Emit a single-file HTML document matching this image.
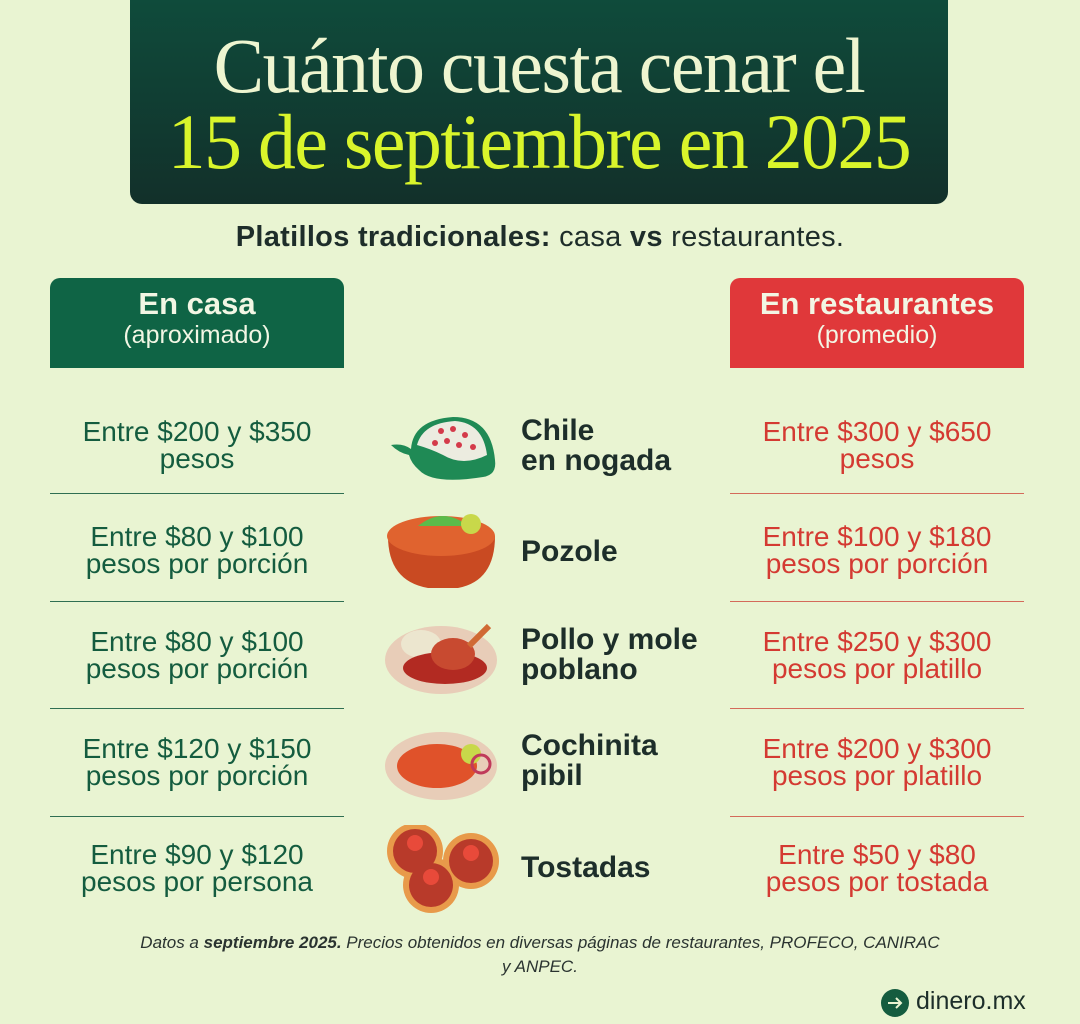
<!DOCTYPE html><html><head><meta charset="utf-8"><style>
*{margin:0;padding:0;box-sizing:border-box}
body{width:1080px;height:1024px;background:#e9f4d2;position:relative;overflow:hidden;font-family:"Liberation Sans",sans-serif}
.title{position:absolute;left:130px;top:0;width:818px;height:204px;border-radius:0 0 12px 12px;background:linear-gradient(#0f4b3b,#12302a);text-align:center;font-family:"Liberation Serif",serif;font-size:78px;line-height:76px;padding-top:28px;letter-spacing:-1.5px}
.title div{transform:scaleX(0.97)}
.t1{color:#eef5d0}.t2{color:#d9f52b}
.sub{position:absolute;top:221px;width:1080px;text-align:center;font-size:29px;letter-spacing:0.3px;color:#1e2d2a}
.hd{position:absolute;top:278px;width:294px;height:90px;border-radius:10px 10px 0 0;text-align:center;color:#f2f6e4;padding-top:9px}
.hd b{font-size:31px;display:block;line-height:34px}.hd span{font-size:25px}
.c{position:absolute;width:294px;text-align:center;font-size:28px;line-height:27px}
.l{left:50px;color:#145c3f}.r{left:730px;color:#d43a32}
.sep{position:absolute;width:294px;height:1px}
.sl{left:50px;background:#2f6e52}.sr{left:730px;background:#d46a5a}
.n{position:absolute;left:521px;font-weight:bold;font-size:30px;line-height:30px;color:#1d2e2a}
.ic{position:absolute;left:383px;width:118px;height:90px}
.foot{position:absolute;top:931px;width:1080px;text-align:center;font-style:italic;font-size:17px;line-height:24px;color:#2a3330}
</style></head><body>
<div class="title"><div class="t1">Cuánto cuesta cenar el</div><div class="t2">15 de septiembre en 2025</div></div>
<div class="sub"><b>Platillos tradicionales:</b> casa <b>vs</b> restaurantes.</div>
<div class="hd" style="left:50px;background:#0f6445"><b>En casa</b><span>(aproximado)</span></div>
<div class="hd" style="left:730px;background:#e0383a"><b>En restaurantes</b><span>(promedio)</span></div>

<div class="c l" style="top:418px">Entre $200 y $350<br>pesos</div>
<div class="c l" style="top:523px">Entre $80 y $100<br>pesos por porción</div>
<div class="c l" style="top:628px">Entre $80 y $100<br>pesos por porción</div>
<div class="c l" style="top:735px">Entre $120 y $150<br>pesos por porción</div>
<div class="c l" style="top:841px">Entre $90 y $120<br>pesos por persona</div>
<div class="c r" style="top:418px">Entre $300 y $650<br>pesos</div>
<div class="c r" style="top:523px">Entre $100 y $180<br>pesos por porción</div>
<div class="c r" style="top:628px">Entre $250 y $300<br>pesos por platillo</div>
<div class="c r" style="top:735px">Entre $200 y $300<br>pesos por platillo</div>
<div class="c r" style="top:841px">Entre $50 y $80<br>pesos por tostada</div>
<div class="sep sl" style="top:493px"></div><div class="sep sl" style="top:601px"></div><div class="sep sl" style="top:708px"></div><div class="sep sl" style="top:816px"></div>
<div class="sep sr" style="top:493px"></div><div class="sep sr" style="top:601px"></div><div class="sep sr" style="top:708px"></div><div class="sep sr" style="top:816px"></div>

<div class="n" style="top:416px">Chile<br>en nogada</div>
<div class="n" style="top:537px">Pozole</div>
<div class="n" style="top:625px">Pollo y mole<br>poblano</div>
<div class="n" style="top:731px">Cochinita<br>pibil</div>
<div class="n" style="top:853px">Tostadas</div>

<svg class="ic" style="top:405px" viewBox="0 0 118 90"><path d="M8 40 Q20 38 28 44 Q30 15 70 12 Q108 12 112 55 Q114 70 100 72 Q50 80 36 65 Q28 58 26 50 Q16 48 8 40Z" fill="#1f8a55"/><path d="M34 40 Q40 18 72 16 Q100 18 104 50 Q80 62 60 50 Q48 44 34 40Z" fill="#ecece0"/><g fill="#d43a4a"><circle cx="58" cy="26" r="3"/><circle cx="70" cy="24" r="3"/><circle cx="82" cy="30" r="3"/><circle cx="64" cy="36" r="3"/><circle cx="76" cy="40" r="3"/><circle cx="90" cy="42" r="3"/><circle cx="52" cy="38" r="3"/></g></svg>
<svg class="ic" style="top:506px" viewBox="0 0 118 90"><path d="M5 30 Q5 75 45 82 L75 82 Q112 75 112 30Z" fill="#c94a22"/><ellipse cx="58" cy="30" rx="54" ry="20" fill="#e0632f"/><path d="M35 20 Q60 0 85 20 Z" fill="#5bbb4a"/><circle cx="88" cy="18" r="10" fill="#c8d84a"/></svg>
<svg class="ic" style="top:612px" viewBox="0 0 118 90"><ellipse cx="58" cy="48" rx="56" ry="34" fill="#e8cdb8"/><ellipse cx="38" cy="32" rx="20" ry="14" fill="#ece6cf"/><ellipse cx="62" cy="56" rx="42" ry="16" fill="#b22a22"/><ellipse cx="70" cy="42" rx="22" ry="16" fill="#c84a30"/><path d="M86 34 L106 14" stroke="#d06a34" stroke-width="6"/></svg>
<svg class="ic" style="top:718px" viewBox="0 0 118 90"><ellipse cx="58" cy="48" rx="56" ry="34" fill="#e8cdb8"/><ellipse cx="54" cy="48" rx="40" ry="22" fill="#e0522a"/><circle cx="88" cy="36" r="10" fill="#c8d84a"/><circle cx="98" cy="46" r="9" fill="none" stroke="#c03a5a" stroke-width="3"/></svg>
<svg class="ic" style="top:825px" viewBox="0 0 118 90"><g fill="#e89a4a"><circle cx="32" cy="26" r="28"/><circle cx="88" cy="36" r="28"/><circle cx="48" cy="60" r="28"/></g><g fill="#b83a2a"><circle cx="32" cy="26" r="22"/><circle cx="88" cy="36" r="22"/><circle cx="48" cy="60" r="22"/></g><g fill="#e84a3a"><circle cx="32" cy="18" r="8"/><circle cx="88" cy="28" r="8"/><circle cx="48" cy="52" r="8"/></g></svg>

<div class="foot">Datos a <b>septiembre 2025.</b> Precios obtenidos en diversas páginas de restaurantes, PROFECO, CANIRAC<br>y ANPEC.</div>
<svg style="position:absolute;left:880px;top:988px" width="30" height="30"><circle cx="15" cy="15" r="14" fill="#145c3f"/><path d="M8 15 H21 M16 10 L21 15 L16 20" stroke="#e9f4d2" stroke-width="2" fill="none"/></svg>
<div style="position:absolute;left:916px;top:987px;font-size:25px;color:#1d2e2a">dinero.mx</div>
</body></html>
